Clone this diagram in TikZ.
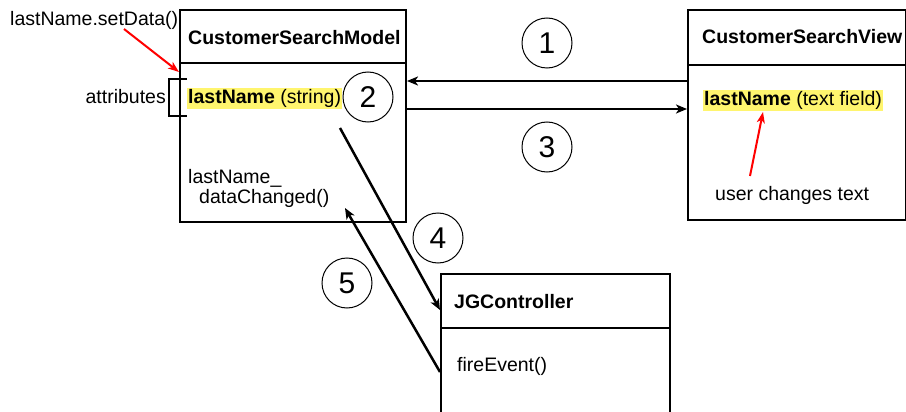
\documentclass[tikz,border=0pt]{standalone}
\usepackage{fontspec}
\setmainfont{Liberation Sans}
\usetikzlibrary{arrows.meta}
\definecolor{hlyellow}{RGB}{255,245,110}
\begin{document}
\begin{tikzpicture}[x=1pt,y=-1pt,
  box/.style={draw, line width=2pt, inner sep=0pt, anchor=north west},
  divider/.style={line width=2pt},
  arr/.style={line width=2.5pt, -{Stealth[length=11pt,width=9pt,inset=3pt]}},
  redarr/.style={draw=red, line width=2pt, -{Stealth[length=11pt,width=8pt,inset=3pt]}},
  num/.style={draw, circle, line width=1pt, minimum size=50pt, inner sep=0pt, font=\fontsize{30}{30}\selectfont},
  lbl/.style={inner sep=0pt, anchor=base west, font=\fontsize{19.5}{22}\selectfont},
  ttl/.style={lbl, font=\fontsize{19.5}{22}\selectfont\bfseries},
  hl/.style={lbl, fill=hlyellow, inner xsep=1pt, inner ysep=1pt, text height=15pt, text depth=4pt}]
\useasboundingbox (0,0) rectangle (906,412);
\clip (0,0) rectangle (906,412);

% boxes
\node[box, minimum width=226pt, minimum height=212pt] (model) at (179,9) {};
\draw[divider] ([yshift=-54pt]model.north west) -- ([yshift=-54pt]model.north east);
\node[box, minimum width=218pt, minimum height=210pt] (view) at (687,9) {};
\draw[divider] ([yshift=-56pt]view.north west) -- ([yshift=-56pt]view.north east);
\node[box, minimum width=229pt, minimum height=170pt] (ctrl) at (440,273) {};
\draw[divider] ([yshift=-55pt]ctrl.north west) -- ([yshift=-55pt]ctrl.north east);

% texts
\node[ttl] (mtitle) at (188,45) {CustomerSearchModel};
\node[hl] (mattr) at (187,104) {\textbf{lastName} (string)};
\node[lbl] (mdc1) at (188,183) {lastName\_};
\node[lbl] (mdc2) at (199,203) {dataChanged()};
\node[ttl] (vtitle) at (702,44) {CustomerSearchView};
\node[hl] (vattr) at (703,106) {\textbf{lastName} (text field)};
\node[lbl] (user) at (715,200) {user changes text};
\node[ttl] (ctitle) at (454,308) {JGController};
\node[lbl] (fire) at (457,371) {fireEvent()};
\node[lbl] (setdata) at (10,26) {lastName.setData()};
\node[lbl, anchor=base east] (attr) at (166,104) {attributes};

% bracket
\draw[line width=1.5pt] (187,79) -- (169,79) -- (169,116) -- (187,116);

% numbered circles
\node[num] (c1) at (547,43) {1};
\node[num] (c2) at (368,97) {2};
\node[num] (c3) at (547,147) {3};
\node[num] (c4) at (438,238) {4};
\node[num] (c5) at (347,283) {5};

% connectors
\draw[arr] ([yshift=-72pt]view.north west) -- ([yshift=-72pt]model.north east);
\draw[arr] ([yshift=-100pt]model.north east) -- ([yshift=-100pt]view.north west);
\coordinate (a4s) at (340,128);
\draw[arr] (a4s) -- ([yshift=-37pt]ctrl.north west);
\coordinate (a5e) at (345,208);
\draw[arr] ([yshift=-99pt]ctrl.north west) -- (a5e);

% red arrows
\coordinate (r1s) at (124,29);
\draw[redarr] (r1s) -- ([yshift=-63pt]model.north west);
\coordinate (r2s) at (750,176);
\coordinate (r2e) at (763,112);
\draw[redarr] (r2s) -- (r2e);
\end{tikzpicture}
\end{document}
